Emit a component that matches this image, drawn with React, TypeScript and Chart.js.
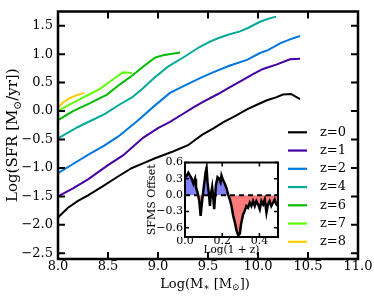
import React, { useEffect, useRef } from 'react';
import { Chart, registerables } from 'chart.js';
Chart.register(...registerables);

const FONT = "'DejaVu Serif', serif";

// ---- main chart data ----
const z0Mass = [8.0, 8.1, 8.2, 8.3, 8.45, 8.6, 8.74, 8.85, 8.97, 9.15, 9.3, 9.44, 9.55, 9.65, 9.77, 9.89, 10.0, 10.09, 10.18, 10.25, 10.33, 10.42];
const z0Sfr = [-1.87, -1.7, -1.58, -1.48, -1.32, -1.15, -1.0, -0.92, -0.83, -0.71, -0.6, -0.42, -0.31, -0.2, -0.09, 0.03, 0.12, 0.19, 0.24, 0.29, 0.3, 0.21];
const z1Mass = [8.0, 8.15, 8.3, 8.5, 8.65, 8.85, 9.0, 9.12, 9.24, 9.35, 9.45, 9.6, 9.72, 9.85, 9.95, 10.05, 10.19, 10.32, 10.42];
const z1Sfr = [-1.5, -1.36, -1.2, -0.95, -0.78, -0.47, -0.3, -0.19, -0.06, 0.06, 0.16, 0.3, 0.42, 0.55, 0.65, 0.74, 0.82, 0.91, 0.92];
const z2Mass = [8.0, 8.15, 8.3, 8.45, 8.6, 8.79, 8.97, 9.12, 9.28, 9.42, 9.55, 9.72, 9.89, 10.02, 10.1, 10.22, 10.32, 10.42];
const z2Sfr = [-1.09, -0.93, -0.77, -0.62, -0.45, -0.18, 0.1, 0.32, 0.46, 0.58, 0.68, 0.8, 0.9, 1.02, 1.07, 1.19, 1.26, 1.32];
const z4Mass = [8.0, 8.2, 8.47, 8.62, 8.74, 8.85, 8.96, 9.1, 9.26, 9.42, 9.52, 9.6, 9.7, 9.82, 9.9, 10.02, 10.1, 10.18];
const z4Sfr = [-0.48, -0.28, -0.05, 0.12, 0.24, 0.4, 0.58, 0.78, 0.95, 1.13, 1.22, 1.28, 1.34, 1.4, 1.46, 1.57, 1.62, 1.66];
const z6Mass = [8.0, 8.15, 8.32, 8.49, 8.62, 8.74, 8.85, 8.97, 9.05, 9.22];
const z6Sfr = [-0.16, 0.0, 0.14, 0.29, 0.47, 0.62, 0.78, 0.94, 0.98, 1.03];
const z7Mass = [8.0, 8.1, 8.22, 8.32, 8.42, 8.52, 8.6, 8.65, 8.74];
const z7Sfr = [0.0, 0.1, 0.21, 0.3, 0.39, 0.52, 0.62, 0.68, 0.67];
const z8Mass = [8.0, 8.05, 8.12, 8.19, 8.26];
const z8Sfr = [0.06, 0.15, 0.23, 0.28, 0.32];

const seriesLabels = ['z=0', 'z=1', 'z=2', 'z=4', 'z=6', 'z=7', 'z=8'];
const seriesMass = [z0Mass, z1Mass, z2Mass, z4Mass, z6Mass, z7Mass, z8Mass];
const seriesSfr = [z0Sfr, z1Sfr, z2Sfr, z4Sfr, z6Sfr, z7Sfr, z8Sfr];
const seriesColors = ['#000000', '#4400a1', '#0077dd', '#00aa99', '#00bb00', '#5eff00', '#ffcc00'];

const xTicks = [8.0, 8.5, 9.0, 9.5, 10.0, 10.5, 11.0];
const yTicks = [-2.5, -2.0, -1.5, -1.0, -0.5, 0.0, 0.5, 1.0, 1.5];

// ---- inset data ----
const insetLogZ = [0.005, 0.018, 0.027, 0.036, 0.045, 0.054, 0.059, 0.068, 0.077, 0.084, 0.093, 0.102, 0.111, 0.116, 0.121, 0.129, 0.134, 0.139, 0.146, 0.152, 0.157, 0.166, 0.175, 0.184, 0.191, 0.196, 0.205, 0.214, 0.223, 0.232, 0.241, 0.25, 0.259, 0.268, 0.277, 0.286, 0.295, 0.3, 0.307, 0.313, 0.321, 0.33, 0.339, 0.348, 0.357, 0.366, 0.375, 0.384, 0.393, 0.402, 0.411, 0.42, 0.429, 0.438, 0.446, 0.455, 0.464, 0.473, 0.482, 0.491, 0.5];
const insetOffset = [0.33, 0.41, 0.36, 0.3, 0.21, 0.3, 0.15, 0.04, -0.11, -0.38, -0.08, 0.18, 0.42, 0.5, 0.24, 0.01, -0.2, 0.01, 0.15, -0.05, -0.26, 0.18, 0.33, 0.3, 0.24, 0.36, 0.27, 0.21, 0.13, 0.01, -0.08, -0.2, -0.38, -0.5, -0.65, -0.74, -0.71, -0.56, -0.44, -0.35, -0.29, -0.2, -0.23, -0.14, -0.2, -0.11, -0.2, -0.11, -0.17, -0.26, -0.11, -0.17, -0.08, -0.32, -0.17, -0.11, -0.2, -0.14, -0.08, -0.17, -0.2];
const insetXTicks = [0.0, 0.2, 0.4];
const insetYTicks = [-0.6, -0.3, 0.0, 0.3, 0.6];

const fmt = (v: any) => {
  const s = Number(v).toFixed(1);
  return s.startsWith('-') ? '\u2212' + s.slice(1) : s;
};

const frameTicks = (len: number, tickW: number, frameW: number) => ({
  id: 'frameTicks',
  afterDatasetsDraw(chart: any) {
    const { ctx, chartArea: a, scales } = chart;
    const xs = scales.x, ys = scales.y;
    ctx.save();
    ctx.strokeStyle = '#000';
    ctx.lineWidth = tickW;
    ctx.beginPath();
    xs.ticks.forEach((t: any) => {
      const px = xs.getPixelForValue(t.value);
      ctx.moveTo(px, a.bottom); ctx.lineTo(px, a.bottom - len);
      ctx.moveTo(px, a.top); ctx.lineTo(px, a.top + len);
    });
    ys.ticks.forEach((t: any) => {
      const py = ys.getPixelForValue(t.value);
      ctx.moveTo(a.left, py); ctx.lineTo(a.left + len, py);
      ctx.moveTo(a.right, py); ctx.lineTo(a.right - len, py);
    });
    ctx.stroke();
    ctx.lineWidth = frameW;
    ctx.strokeRect(a.left, a.top, a.right - a.left, a.bottom - a.top);
    ctx.restore();
  },
});

type Seg = { t: string; sub?: boolean };
function drawRich(ctx: CanvasRenderingContext2D, segs: Seg[], cx: number, cy: number, rot: number, size: number) {
  ctx.save();
  ctx.translate(cx, cy);
  ctx.rotate(rot);
  ctx.textBaseline = 'alphabetic';
  ctx.textAlign = 'left';
  ctx.fillStyle = '#000';
  const widths = segs.map((s) => {
    ctx.font = `${s.sub ? size * 0.7 : size}px ${FONT}`;
    return ctx.measureText(s.t).width;
  });
  const total = widths.reduce((a, b) => a + b, 0);
  let x = -total / 2;
  const base = size * 0.35;
  segs.forEach((s, i) => {
    ctx.font = `${s.sub ? size * 0.7 : size}px ${FONT}`;
    ctx.fillText(s.t, x, base + (s.sub ? size * 0.22 : 0));
    x += widths[i];
  });
  ctx.restore();
}

const mainDecor = {
  id: 'mainDecor',
  afterDraw(chart: any) {
    const { ctx, chartArea: a } = chart;
    // axis titles
    drawRich(ctx, [{ t: 'Log(SFR [M' }, { t: '\u2299', sub: true }, { t: '/yr])' }], 12, (a.top + a.bottom) / 2, -Math.PI / 2, 15);
    drawRich(ctx, [{ t: 'Log(M' }, { t: '\u2217', sub: true }, { t: ' [M' }, { t: '\u2299', sub: true }, { t: '])' }], (a.left + a.right) / 2 - 3, 283, 0, 13);
    // legend
    ctx.save();
    ctx.font = `13px ${FONT}`;
    ctx.textBaseline = 'middle';
    ctx.textAlign = 'left';
    seriesLabels.forEach((lab, i) => {
      const y = a.bottom - 126.7 + i * 18.25;
      ctx.strokeStyle = seriesColors[i];
      ctx.lineWidth = 2.2;
      ctx.beginPath();
      ctx.moveTo(a.right - 70, y);
      ctx.lineTo(a.right - 51, y);
      ctx.stroke();
      ctx.fillStyle = '#000';
      ctx.fillText(lab, a.right - 38, y);
    });
    ctx.restore();
  },
};

const insetBg = {
  id: 'insetBg',
  beforeDraw(chart: any) {
    const { ctx, chartArea: a } = chart;
    ctx.save();
    ctx.fillStyle = '#fff';
    ctx.fillRect(a.left, a.top, a.right - a.left, a.bottom - a.top);
    ctx.restore();
  },
};

export default function App() {
  const mainRef = useRef<HTMLCanvasElement>(null);
  const insetRef = useRef<HTMLCanvasElement>(null);

  useEffect(() => {
    const tickFont = { family: FONT, size: 13, lineHeight: 1 };
    const main = new Chart(mainRef.current as HTMLCanvasElement, {
      type: 'line',
      data: {
        datasets: seriesLabels.map((lab, i) => ({
          label: lab,
          data: seriesMass[i].map((m, j) => ({ x: m, y: seriesSfr[i][j] })),
          borderColor: seriesColors[i],
          backgroundColor: seriesColors[i],
          borderWidth: 2,
          pointRadius: 0,
          tension: 0,
          fill: false,
        })),
      },
      options: {
        animation: false,
        responsive: false,
        maintainAspectRatio: false,
        devicePixelRatio: 1,
        layout: { padding: { left: 0, right: 16, top: 9, bottom: 0 } },
        plugins: { legend: { display: false }, tooltip: { enabled: false } },
        scales: {
          x: {
            type: 'linear',
            min: 8,
            max: 11,
            afterBuildTicks: (s: any) => { s.ticks = xTicks.map((v) => ({ value: v })); },
            afterFit: (s: any) => { s.height = 40; },
            grid: { display: false, drawTicks: false },
            border: { display: false },
            ticks: { font: tickFont, color: '#000', padding: 1, maxRotation: 0, autoSkip: false, callback: fmt },
          },
          y: {
            type: 'linear',
            min: -2.6,
            max: 1.75,
            afterBuildTicks: (s: any) => { s.ticks = yTicks.map((v) => ({ value: v })); },
            afterFit: (s: any) => { s.width = 58; },
            grid: { display: false, drawTicks: false },
            border: { display: false },
            ticks: { font: tickFont, color: '#000', padding: 5, autoSkip: false, callback: fmt },
          },
        },
      } as any,
      plugins: [frameTicks(7, 2, 2.5), mainDecor],
    });

    const smallFont = { family: FONT, size: 11, lineHeight: 1 };
    const inset = new Chart(insetRef.current as HTMLCanvasElement, {
      type: 'line',
      data: {
        datasets: [
          {
            label: 'offset',
            data: insetLogZ.map((x, i) => ({ x, y: insetOffset[i] })),
            borderColor: '#000',
            borderWidth: 2.5,
            pointRadius: 0,
            tension: 0,
            fill: { target: { value: 0 }, above: '#8080f8', below: '#fb7b7b' },
          },
          {
            label: 'zero',
            data: [{ x: insetXTicks[0], y: 0 }, { x: 0.5, y: 0 }],
            borderColor: '#000',
            borderWidth: 2,
            borderDash: [5, 4],
            pointRadius: 0,
            fill: false,
          },
        ],
      },
      options: {
        animation: false,
        responsive: false,
        maintainAspectRatio: false,
        devicePixelRatio: 1,
        layout: { padding: { left: 0, right: 12, top: 7, bottom: 0 } },
        plugins: { legend: { display: false }, tooltip: { enabled: false }, filler: { drawTime: 'beforeDatasetsDraw' } },
        scales: {
          x: {
            type: 'linear',
            min: 0,
            max: 0.5,
            afterBuildTicks: (s: any) => { s.ticks = insetXTicks.map((v) => ({ value: v })); },
            afterFit: (s: any) => { s.height = 23; },
            grid: { display: false, drawTicks: false },
            border: { display: false },
            ticks: { font: smallFont, color: '#000', padding: -1, maxRotation: 0, autoSkip: false, callback: fmt },
            title: { display: true, text: 'Log(1 + z)', color: '#000', font: { family: FONT, size: 10.5 }, padding: { top: 0, bottom: 3.7 } },
          },
          y: {
            type: 'linear',
            min: -0.77,
            max: 0.6,
            afterBuildTicks: (s: any) => { s.ticks = insetYTicks.map((v) => ({ value: v })); },
            afterFit: (s: any) => { s.width = 45; },
            grid: { display: false, drawTicks: false },
            border: { display: false },
            ticks: { font: smallFont, color: '#000', padding: 2, autoSkip: false, callback: fmt },
            title: { display: true, text: 'SFMS Offset', color: '#000', font: { family: FONT, size: 11 }, padding: { top: 5.4, bottom: 0 } },
          },
        },
      } as any,
      plugins: [insetBg, frameTicks(4, 1.5, 2)],
    });

    return () => {
      main.destroy();
      inset.destroy();
    };
  }, []);

  return (
    <div style={{ position: 'absolute', left: 0, top: 0, width: 374, height: 299, background: '#fff' }}>
      <canvas ref={mainRef} width={374} height={299} style={{ position: 'absolute', left: 0, top: 0, width: 374, height: 299 }} />
      <canvas ref={insetRef} width={150} height={105} style={{ position: 'absolute', left: 140, top: 155, width: 150, height: 105 }} />
    </div>
  );
}
